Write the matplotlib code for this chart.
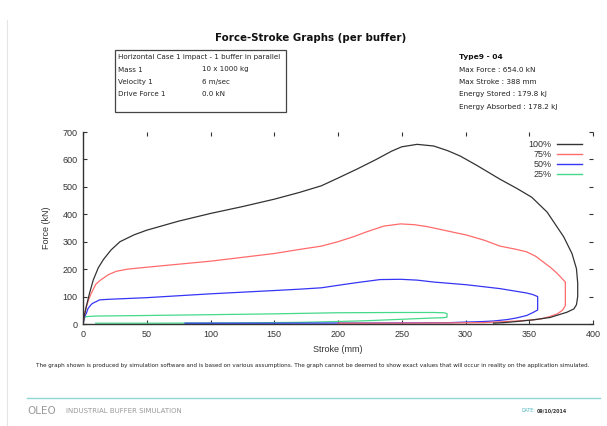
"""
Force-stroke loops per buffer (OLEO industrial buffer simulation report page).
Values read off the report picture.
"""
import matplotlib
matplotlib.use("Agg")
import matplotlib.pyplot as plt
from matplotlib.lines import Line2D

# ---- data: stroke (mm) / force (kN) loops ----
x100 = [0, 1, 2.6, 5, 8, 12, 16, 22, 29, 40, 50, 75, 100, 125, 150, 170, 187, 200, 215,
        230, 242, 250, 262, 275, 286, 296, 309, 327, 340, 352, 364, 377, 383.5, 387, 388, 388,
        387, 385, 379.6, 366.5, 353, 340, 330, 322]
f100 = [0, 30, 64, 110, 160, 205, 235, 270, 300, 325, 342, 375, 403, 428, 455, 480, 504, 532, 565,
        600, 630, 646, 655, 649, 632, 612, 578, 528, 495, 462, 408, 318, 257, 202, 150, 100,
        70, 55, 43, 24, 15, 9, 5, 3]

x75 = [0, 1, 2.6, 4.5, 6.6, 10, 14, 20, 26, 35, 50, 75, 100, 125, 150, 170, 187, 200, 212,
       223, 236, 249, 260, 270, 285, 301, 315, 327, 340, 348, 355, 361, 367, 372, 378.3, 378.3,
       376, 372, 366, 358.7, 350, 340, 328, 314, 290, 260, 230, 200]
f75 = [0, 30, 63, 90, 113, 145, 161, 180, 192, 200, 207, 218, 229, 243, 257, 272, 284, 300, 318,
       337, 357, 365, 362, 355, 340, 324, 305, 284, 272, 263, 247, 226, 205, 184, 153, 67,
       50, 37, 27, 18, 14, 11, 8, 5, 4, 3.5, 3, 3]

x50 = [0, 1.3, 2.6, 4, 6.6, 7.8, 10.5, 13, 20, 35, 50, 75, 100, 125, 150, 170, 187, 200, 215,
       233, 249, 262, 275, 301, 327, 348, 353, 356.6, 356.6, 353, 348, 340, 332.5, 322, 314,
       300, 288, 250, 200, 150, 100, 80]
f50 = [0, 27, 39, 57, 72, 76, 82, 88, 90, 93, 96, 103, 110, 116, 122, 127, 132, 141, 151,
       162, 163, 160, 153, 143, 129, 113, 107, 100, 51, 42, 31, 22, 16, 11, 9,
       7, 5, 4, 3.5, 3, 3, 3]

x25 = [0, 0.5, 2.6, 10.5, 50, 100, 150, 187, 200, 249, 275, 283, 285.5, 285.5, 283, 275, 249,
       222.7, 200, 170, 120, 60, 10]
f25 = [0, 21, 27, 29, 31, 34, 37, 40, 41, 42, 42, 41, 38, 25, 23, 22, 17,
       12, 9, 6, 4, 3, 3]

labels = ["100%", "75%", "50%", "25%"]
colors = ["#333333", "#ff6b6b", "#3535f5", "#45d98a"]

case_rows = [("Mass 1", "10 x 1000 kg"), ("Velocity 1", "6 m/sec"), ("Drive Force 1", "0.0 kN")]
summary = ["Max Force : 654.0 kN", "Max Stroke : 388 mm",
           "Energy Stored : 179.8 kJ", "Energy Absorbed : 178.2 kJ"]

plt.rcParams["font.family"] = ["DejaVu Sans"]
narrow = ["Liberation Sans Narrow", "Liberation Sans"]

fig = plt.figure(figsize=(6.07, 4.26), dpi=100)
ax = fig.add_axes([83 / 607, 1 - 324 / 426, 510 / 607, 192 / 426])

# draw order: small loops first so the bigger ones sit on the baseline returns
for xs, fs, c in [(x25, f25, colors[3]), (x50, f50, colors[2]),
                  (x75, f75, colors[1]), (x100, f100, colors[0])]:
    ax.plot(xs, fs, color=c, linewidth=0.9, solid_joinstyle="round")

ax.set_xlim(0, 400)
ax.set_ylim(0, 700)
ax.set_xticks(range(0, 401, 50))
ax.set_yticks(range(0, 701, 100))
for s in ["top", "right"]:
    ax.spines[s].set_visible(False)
for s in ["left", "bottom"]:
    ax.spines[s].set_color("#333333")
    ax.spines[s].set_linewidth(1.0)
ax.tick_params(direction="in", length=3, width=0.8, color="#333333",
               top=True, right=True, labelsize=6.5, labelcolor="#333333", pad=4)
for lab in ax.get_xticklabels() + ax.get_yticklabels():
    lab.set_family(narrow)
ax.set_xlabel("Stroke (mm)", fontsize=6.5, family=narrow, color="#333333", labelpad=5)
ax.set_ylabel("Force (kN)", fontsize=6.5, family=narrow, color="#333333", labelpad=8)

handles = [Line2D([], [], color=c, linewidth=1.0) for c in colors]
ax.legend(handles, labels, loc="upper right", bbox_to_anchor=(0.995, 1.0), frameon=False,
          markerfirst=False, handlelength=2.8, labelspacing=0.1, handletextpad=0.6,
          prop={"family": narrow, "size": 6.5}, labelcolor="#333333")

# ---- page texts ----
fig.text(311 / 607, 1 - 38 / 426, "Force-Stroke Graphs (per buffer)", ha="center", va="center",
         fontsize=7.4, fontweight="bold", color="#111111")

box = plt.Rectangle((115 / 607, 1 - 112 / 426), 171 / 607, 62 / 426, transform=fig.transFigure,
                    fill=False, edgecolor="#444444", linewidth=0.9)
fig.add_artist(box)
fig.text(118 / 607, 1 - 57.5 / 426, "Horizontal Case 1 impact - 1 buffer in parallel",
         fontsize=5.1, va="center", color="#222222")
for i, (k, v) in enumerate(case_rows):
    yy = 1 - (69.5 + 12.3 * i) / 426
    fig.text(118 / 607, yy, k, fontsize=5.1, va="center", color="#222222")
    fig.text(202 / 607, yy, v, fontsize=5.1, va="center", color="#222222")

fig.text(459 / 607, 1 - 57.5 / 426, "Type9 - 04", fontsize=5.4, fontweight="bold",
         va="center", color="#111111")
for i, s in enumerate(summary):
    fig.text(459 / 607, 1 - (70 + 12.2 * i) / 426, s, fontsize=5.2, va="center", color="#222222")

fig.text(313 / 607, 1 - 366 / 426,
         "The graph shown is produced by simulation software and is based on various assumptions. "
         "The graph cannot be deemed to show exact values that will occur in reality on the application simulated.",
         ha="center", va="center", fontsize=4.1, color="#222222")

fig.add_artist(Line2D([27 / 607, 600 / 607], [1 - 398 / 426, 1 - 398 / 426],
                      transform=fig.transFigure, color="#8fd6d6", linewidth=1.0))
fig.add_artist(Line2D([7 / 607, 7 / 607], [0, 1 - 20 / 426],
                      transform=fig.transFigure, color="#e4e4e4", linewidth=0.8))
fig.text(27 / 607, 1 - 411 / 426, "OLEO", fontsize=7.5, va="center", color="#9a9a9a")
fig.text(66 / 607, 1 - 411 / 426, "INDUSTRIAL BUFFER SIMULATION", fontsize=5.0,
         va="center", color="#9a9a9a")
fig.text(522 / 607, 1 - 411 / 426, "DATE:", fontsize=3.4, va="center", color="#4fb8c0")
fig.text(537 / 607, 1 - 411 / 426, "09/10/2014", fontsize=3.4, va="center",
         color="#333333", fontweight="bold")

fig.savefig("out.png", dpi=100, facecolor="white")
